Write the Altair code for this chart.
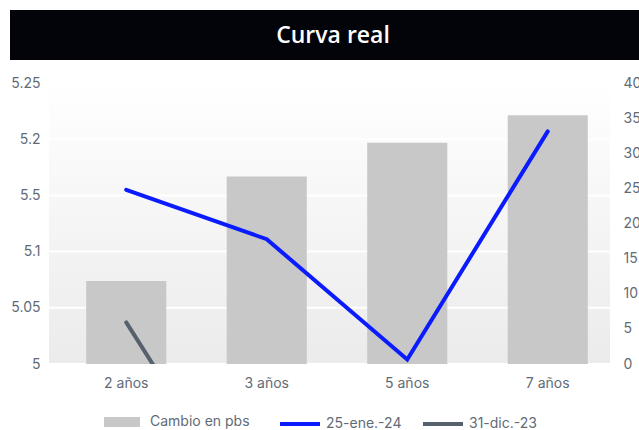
import altair as alt
import pandas as pd

# Plazos y valores
plazos = ["2 años", "3 años", "5 años", "7 años"]
cambio_pbs = [11.8, 26.7, 31.5, 35.4]
curva_25ene24 = [5.155, 5.111, 5.004, 5.207]
curva_31dic23 = [5.037, 4.84, 4.71, 4.92]

nombre_barras = "Cambio en pbs"
color_barras = "#c8c8c8"
series_lineas = ["25-ene.-24", "31-dic.-23"]
colores_lineas = ["#0a1bff", "#56616b"]

# Ejes
ticks_tasa = [5, 5.05, 5.1, 5.15, 5.2, 5.25]
etiquetas_tasa = ["5", "5.05", "5.1", "5.5", "5.2", "5.25"]
ticks_pbs = [0, 5, 10, 15, 20, 25, 30, 35, 40]

titulo = "Curva real"

FONT = "Inter"
LABEL_COLOR = "#5f6b76"
W, H = 561, 281
DOMINIO_TASA = [5, 5.25]

df_barras = pd.DataFrame({"plazo": plazos, "pbs": cambio_pbs, "serie": nombre_barras})
df_lineas = pd.DataFrame(
    {
        "plazo": plazos * 2,
        "tasa": curva_25ene24 + curva_31dic23,
        "serie": [series_lineas[0]] * len(plazos) + [series_lineas[1]] * len(plazos),
    }
)
df_rejilla = pd.DataFrame({"tasa": ticks_tasa})

# etiqueta del eje izquierdo tomada de la lista de etiquetas
label_expr = "''"
for v, l in reversed(list(zip(ticks_tasa, etiquetas_tasa))):
    label_expr = f"abs(datum.value - {v}) < 1e-6 ? '{l}' : ({label_expr})"

x_enc = alt.X(
    "plazo:N",
    sort=plazos,
    scale=alt.Scale(domain=plazos, range=[7, 569], paddingInner=0.43, paddingOuter=0.215),
    axis=alt.Axis(
        title=None, labelAngle=0, domain=False, ticks=False, labelPadding=12,
        labelFontSize=14, labelColor=LABEL_COLOR, labelFont=FONT,
    ),
)

# fondo degradado del área de trazado
fondo = alt.Chart(pd.DataFrame({"t": [0]})).mark_rect(
    color=alt.LinearGradient(
        gradient="linear", x1=0, y1=0, x2=0, y2=1,
        stops=[alt.GradientStop(color="#ffffff", offset=0),
               alt.GradientStop(color="#ebebeb", offset=1)],
    )
).encode(x=alt.value(0), x2=alt.value(W), y=alt.value(0), y2=alt.value(H))

# líneas de rejilla blancas en los ticks del eje izquierdo
rejilla = alt.Chart(df_rejilla).mark_rule(color="#ffffff", strokeWidth=2).encode(
    y=alt.Y("tasa:Q", scale=alt.Scale(domain=DOMINIO_TASA, nice=False, zero=False), axis=None),
    x=alt.value(0), x2=alt.value(W),
)

barras = alt.Chart(df_barras).mark_bar().encode(
    x=x_enc,
    y=alt.Y(
        "pbs:Q",
        scale=alt.Scale(domain=[0, 40], nice=False),
        axis=alt.Axis(
            orient="right", title=None, values=ticks_pbs, grid=False, domain=False,
            ticks=False, labelPadding=13, labelFontSize=14, labelColor=LABEL_COLOR,
            labelFont=FONT,
        ),
    ),
    color=alt.Color(
        "serie:N",
        scale=alt.Scale(domain=[nombre_barras], range=[color_barras]),
        legend=alt.Legend(
            title=None, orient="none", legendX=63, legendY=329, direction="horizontal",
            symbolType="M-1.8,-0.5H1.8V0.5H-1.8Z", symbolSize=400, symbolStrokeWidth=0,
            labelFontSize=14, labelColor=LABEL_COLOR, labelFont=FONT, labelOffset=18,
        ),
    ),
)

lineas = alt.Chart(df_lineas).mark_line(strokeWidth=4, strokeCap="round", clip=True).encode(
    x=x_enc,
    y=alt.Y(
        "tasa:Q",
        scale=alt.Scale(domain=DOMINIO_TASA, nice=False, zero=False),
        axis=alt.Axis(
            orient="left", title=None, values=ticks_tasa, labelExpr=label_expr,
            grid=False, domain=False, ticks=False, labelPadding=9, labelFontSize=14,
            labelColor=LABEL_COLOR, labelFont=FONT,
        ),
    ),
    color=alt.Color(
        "serie:N",
        scale=alt.Scale(domain=series_lineas, range=colores_lineas),
        legend=alt.Legend(
            title=None, orient="none", legendX=239, legendY=329, direction="horizontal",
            symbolType="M-2,0H2", symbolSize=400, symbolStrokeWidth=4,
            labelFontSize=14, labelColor=LABEL_COLOR, labelFont=FONT, labelOffset=14,
            columnPadding=13,
        ),
    ),
)

# banda del título
banda = alt.Chart(pd.DataFrame({"t": [titulo]})).mark_rect(color="#03030a").encode(
    x=alt.value(-39), x2=alt.value(600), y=alt.value(-73), y2=alt.value(-23)
)
texto = alt.Chart(pd.DataFrame({"t": [titulo]})).mark_text(
    color="#ffffff", font="Open Sans", fontSize=23, fontWeight=600,
    align="center", baseline="middle",
).encode(text="t:N", x=alt.value(284), y=alt.value(-47))

chart = (
    alt.layer(fondo, rejilla, barras, lineas, banda, texto)
    .resolve_scale(y="independent", color="independent")
    .properties(
        width=W, height=H,
        autosize=alt.AutoSizeParams(type="none"),
        padding={"left": 49, "top": 83, "right": 29, "bottom": 66},
        background="#ffffff",
    )
    .configure_view(strokeWidth=0)
)

chart.save("out.html", embed_options={"renderer": "svg", "actions": False})
